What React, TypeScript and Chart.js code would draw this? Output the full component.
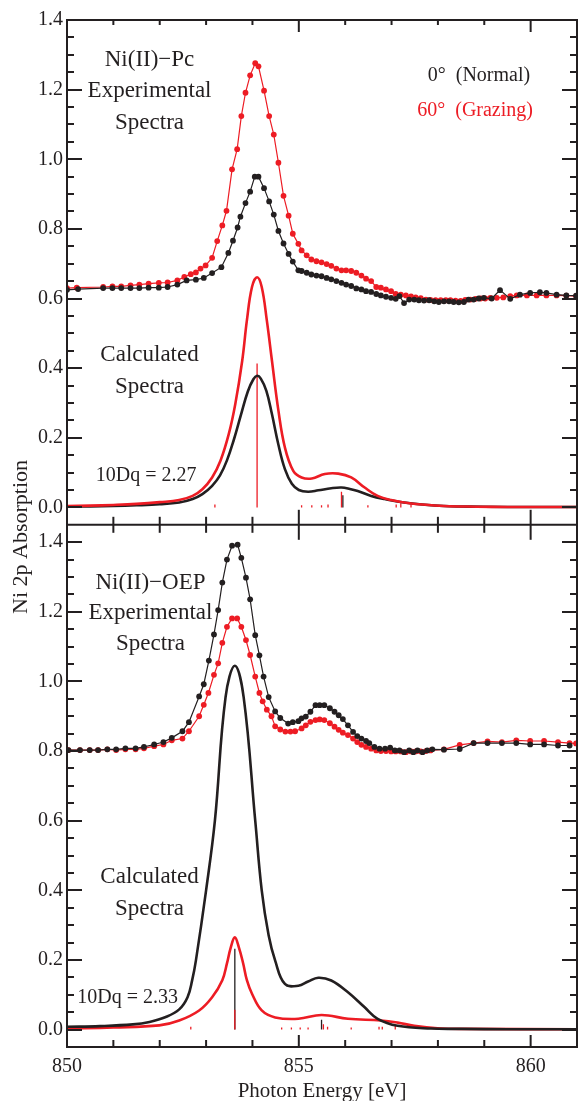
import React, { useEffect, useRef } from 'react';
import { Chart, registerables } from 'chart.js';

Chart.register(...registerables);

// ---------------- data ----------------
// Upper panel: Ni(II)-Pc experimental, 0° (normal incidence)
const pcExpNormalE = [850.0, 850.24, 850.78, 850.98, 851.17, 851.37, 851.56, 851.76, 851.98, 852.17, 852.38, 852.58, 852.78, 852.95, 853.13, 853.33, 853.48, 853.58, 853.68, 853.74, 853.85, 853.95, 854.05, 854.13, 854.25, 854.36, 854.46, 854.56, 854.67, 854.78, 854.87, 854.99, 855.06, 855.17, 855.27, 855.38, 855.49, 855.6, 855.7, 855.81, 855.92, 856.02, 856.13, 856.24, 856.35, 856.45, 856.56, 856.67, 856.77, 856.88, 856.99, 857.09, 857.17, 857.27, 857.38, 857.49, 857.59, 857.7, 857.81, 857.92, 858.02, 858.13, 858.24, 858.34, 858.45, 858.56, 858.66, 858.77, 858.88, 858.99, 859.16, 859.34, 859.56, 859.77, 859.99, 860.2, 860.34, 860.56, 860.77, 860.98];
const pcExpNormalV = [0.625, 0.627, 0.63, 0.63, 0.63, 0.63, 0.63, 0.631, 0.631, 0.633, 0.64, 0.652, 0.654, 0.659, 0.673, 0.69, 0.731, 0.766, 0.804, 0.835, 0.874, 0.907, 0.95, 0.95, 0.917, 0.879, 0.841, 0.794, 0.758, 0.728, 0.706, 0.681, 0.679, 0.674, 0.669, 0.666, 0.664, 0.659, 0.655, 0.65, 0.645, 0.64, 0.636, 0.629, 0.626, 0.621, 0.619, 0.613, 0.609, 0.605, 0.602, 0.599, 0.607, 0.587, 0.597, 0.597, 0.595, 0.594, 0.595, 0.592, 0.59, 0.592, 0.592, 0.59, 0.589, 0.59, 0.597, 0.597, 0.6, 0.602, 0.6, 0.624, 0.599, 0.611, 0.616, 0.618, 0.616, 0.611, 0.609, 0.608];

// Upper panel: Ni(II)-Pc experimental, 60° (grazing incidence)
const pcExpGrazingE = [850.0, 850.21, 850.78, 850.98, 851.17, 851.37, 851.56, 851.76, 851.98, 852.17, 852.38, 852.53, 852.67, 852.78, 852.88, 852.99, 853.13, 853.24, 853.35, 853.44, 853.56, 853.67, 853.76, 853.85, 853.95, 854.06, 854.13, 854.25, 854.36, 854.46, 854.56, 854.67, 854.78, 854.87, 854.99, 855.06, 855.17, 855.27, 855.38, 855.49, 855.6, 855.7, 855.81, 855.92, 856.02, 856.13, 856.24, 856.35, 856.45, 856.56, 856.67, 856.77, 856.88, 856.99, 857.09, 857.2, 857.31, 857.42, 857.52, 857.63, 857.74, 857.84, 857.95, 858.06, 858.17, 858.27, 858.38, 858.49, 858.59, 858.7, 858.81, 858.92, 859.02, 859.13, 859.27, 859.41, 859.56, 859.7, 859.92, 860.13, 860.34, 860.56, 860.77, 860.98];
const pcExpGrazingV = [0.63, 0.631, 0.633, 0.635, 0.635, 0.638, 0.64, 0.643, 0.645, 0.646, 0.652, 0.662, 0.67, 0.675, 0.686, 0.695, 0.717, 0.765, 0.81, 0.852, 0.971, 1.029, 1.124, 1.191, 1.241, 1.276, 1.267, 1.197, 1.124, 1.071, 0.99, 0.895, 0.838, 0.786, 0.757, 0.738, 0.724, 0.712, 0.707, 0.704, 0.699, 0.694, 0.686, 0.681, 0.681, 0.679, 0.674, 0.666, 0.657, 0.65, 0.633, 0.631, 0.626, 0.621, 0.613, 0.611, 0.609, 0.606, 0.603, 0.601, 0.597, 0.596, 0.595, 0.595, 0.595, 0.595, 0.594, 0.593, 0.596, 0.597, 0.599, 0.6, 0.6, 0.602, 0.602, 0.603, 0.607, 0.609, 0.609, 0.609, 0.609, 0.609, 0.608, 0.607];

// Upper panel: calculated spectra (10Dq = 2.27)
const pcCalcNormalE = [850.0, 850.5, 851.0, 851.5, 852.0, 852.42, 852.71, 852.92, 853.13, 853.3, 853.45, 853.6, 853.75, 853.9, 854.02, 854.1, 854.18, 854.3, 854.42, 854.56, 854.7, 854.85, 855.0, 855.2, 855.42, 855.7, 855.92, 856.1, 856.27, 856.56, 856.85, 857.27, 858.13, 859.0, 860.0, 861.0];
const pcCalcNormalV = [0.002, 0.003, 0.004, 0.006, 0.009, 0.014, 0.024, 0.038, 0.062, 0.092, 0.135, 0.195, 0.265, 0.333, 0.368, 0.378, 0.37, 0.335, 0.268, 0.18, 0.11, 0.068, 0.05, 0.045, 0.049, 0.055, 0.057, 0.053, 0.047, 0.033, 0.024, 0.014, 0.004, 0.002, 0.001, 0.001];
const pcCalcGrazingE = [850.0, 850.5, 851.0, 851.5, 852.0, 852.42, 852.71, 852.92, 853.13, 853.31, 853.49, 853.63, 853.78, 853.88, 853.99, 854.1, 854.2, 854.31, 854.42, 854.56, 854.7, 854.88, 855.06, 855.28, 855.56, 855.85, 856.13, 856.42, 856.7, 856.99, 857.42, 858.13, 858.84, 859.5, 860.2, 861.0];
const pcCalcGrazingV = [0.004, 0.005, 0.007, 0.01, 0.015, 0.021, 0.033, 0.052, 0.086, 0.134, 0.211, 0.297, 0.422, 0.537, 0.633, 0.661, 0.633, 0.537, 0.422, 0.278, 0.172, 0.105, 0.086, 0.083, 0.096, 0.097, 0.086, 0.057, 0.033, 0.021, 0.011, 0.004, 0.002, 0.001, 0.001, 0.001];
const pcStickNormalE = [855.95];
const pcStickNormalV = [0.035];
const pcStickGrazingE = [853.19, 854.1, 855.06, 855.28, 855.49, 855.63, 855.92, 856.49, 857.1, 857.2, 857.42];
const pcStickGrazingV = [0.008, 0.413, 0.006, 0.006, 0.006, 0.008, 0.045, 0.006, 0.008, 0.012, 0.008];

// Lower panel: Ni(II)-OEP experimental
const oepExpNormalE = [850.03, 850.28, 850.49, 850.67, 850.87, 851.06, 851.26, 851.48, 851.66, 851.88, 852.08, 852.26, 852.49, 852.63, 852.85, 852.95, 853.06, 853.17, 853.26, 853.35, 853.45, 853.56, 853.68, 853.76, 853.86, 853.95, 854.06, 854.15, 854.24, 854.35, 854.49, 854.6, 854.77, 854.87, 854.99, 855.06, 855.15, 855.25, 855.36, 855.45, 855.55, 855.67, 855.77, 855.86, 855.95, 856.06, 856.17, 856.26, 856.35, 856.45, 856.52, 856.63, 856.74, 856.86, 856.97, 857.07, 857.17, 857.27, 857.38, 857.47, 857.56, 857.67, 857.77, 857.88, 858.13, 858.47, 858.77, 859.07, 859.38, 859.69, 859.99, 860.29, 860.59, 860.84];
const oepExpNormalV = [0.803, 0.803, 0.803, 0.803, 0.805, 0.805, 0.808, 0.808, 0.812, 0.819, 0.826, 0.838, 0.857, 0.883, 0.957, 0.992, 1.06, 1.135, 1.205, 1.284, 1.35, 1.39, 1.393, 1.355, 1.298, 1.236, 1.133, 1.075, 1.014, 0.955, 0.914, 0.895, 0.879, 0.883, 0.886, 0.894, 0.899, 0.913, 0.932, 0.932, 0.932, 0.923, 0.913, 0.903, 0.892, 0.874, 0.855, 0.843, 0.836, 0.829, 0.823, 0.812, 0.807, 0.807, 0.81, 0.802, 0.802, 0.797, 0.802, 0.797, 0.802, 0.797, 0.802, 0.805, 0.804, 0.806, 0.823, 0.823, 0.823, 0.823, 0.819, 0.819, 0.816, 0.816];
const oepExpGrazingE = [850.03, 850.28, 850.49, 850.67, 850.87, 851.06, 851.26, 851.48, 851.66, 851.88, 852.08, 852.26, 852.49, 852.63, 852.85, 852.95, 853.05, 853.17, 853.26, 853.35, 853.45, 853.56, 853.67, 853.76, 853.86, 853.95, 854.06, 854.15, 854.22, 854.31, 854.41, 854.49, 854.6, 854.71, 854.82, 854.92, 855.06, 855.15, 855.25, 855.36, 855.45, 855.55, 855.67, 855.77, 855.86, 855.95, 856.06, 856.17, 856.26, 856.35, 856.45, 856.56, 856.67, 856.77, 856.88, 856.99, 857.09, 857.2, 857.31, 857.42, 857.52, 857.63, 857.74, 857.84, 858.13, 858.47, 858.77, 859.07, 859.38, 859.69, 859.99, 860.29, 860.59, 860.84, 860.98];
const oepExpGrazingV = [0.803, 0.803, 0.803, 0.803, 0.805, 0.803, 0.805, 0.805, 0.808, 0.814, 0.819, 0.831, 0.836, 0.857, 0.9, 0.933, 0.967, 1.019, 1.052, 1.111, 1.157, 1.181, 1.181, 1.157, 1.119, 1.076, 1.014, 0.967, 0.943, 0.919, 0.9, 0.871, 0.862, 0.856, 0.856, 0.857, 0.865, 0.874, 0.884, 0.889, 0.891, 0.889, 0.88, 0.87, 0.861, 0.853, 0.846, 0.836, 0.826, 0.818, 0.812, 0.807, 0.802, 0.8, 0.8, 0.799, 0.799, 0.799, 0.797, 0.799, 0.799, 0.799, 0.8, 0.802, 0.805, 0.818, 0.823, 0.828, 0.826, 0.831, 0.829, 0.829, 0.826, 0.823, 0.822];

// Lower panel: calculated spectra (10Dq = 2.33)
const oepCalcNormalE = [850.0, 850.71, 851.42, 851.78, 852.13, 852.42, 852.6, 852.7, 852.78, 853.0, 853.19, 853.42, 853.62, 853.81, 854.06, 854.2, 854.35, 854.49, 854.7, 854.99, 855.2, 855.42, 855.7, 856.06, 856.42, 856.7, 857.13, 857.85, 858.5, 859.5, 861.0];
const oepCalcNormalV = [0.008, 0.01, 0.015, 0.022, 0.036, 0.058, 0.093, 0.142, 0.198, 0.4, 0.6, 0.955, 1.045, 0.955, 0.6, 0.4, 0.27, 0.198, 0.131, 0.126, 0.138, 0.149, 0.141, 0.107, 0.064, 0.031, 0.011, 0.003, 0.002, 0.001, 0.001];
const oepCalcGrazingE = [850.0, 851.0, 851.99, 852.42, 852.85, 853.13, 853.35, 853.45, 853.53, 853.62, 853.71, 853.8, 853.88, 853.99, 854.2, 854.49, 854.99, 855.49, 856.06, 856.77, 857.13, 857.49, 857.99, 858.6, 861.0];
const oepCalcGrazingV = [0.003, 0.006, 0.012, 0.026, 0.055, 0.093, 0.142, 0.19, 0.235, 0.265, 0.235, 0.19, 0.142, 0.103, 0.055, 0.035, 0.031, 0.042, 0.031, 0.026, 0.02, 0.011, 0.004, 0.002, 0.001];
const oepStickNormalE = [853.62, 855.49];
const oepStickNormalV = [0.232, 0.028];
const oepStickGrazingE = [852.67, 853.62, 854.63, 854.84, 855.03, 855.2, 855.53, 855.62, 856.13, 856.73, 856.8, 857.08];
const oepStickGrazingV = [0.008, 0.057, 0.006, 0.006, 0.006, 0.006, 0.015, 0.008, 0.006, 0.008, 0.008, 0.01];

// axis ticks
const xTickValues = [850, 855, 860];
const yTickValues = [0, 0.2, 0.4, 0.6, 0.8, 1.0, 1.2, 1.4];

// ---------------- styling ----------------
const INK = '#231f20';
const RED = '#ed1c24';
const SERIF = '"Liberation Serif", "Times New Roman", Times, serif';

const pts = (E: number[], V: number[]) => E.map((e, i) => ({ x: e, y: V[i] }));
const sticks = (E: number[], V: number[]) => {
  const out: any[] = [];
  E.forEach((e, i) => {
    out.push({ x: e, y: 0 }, { x: e, y: V[i] }, { x: e, y: null });
  });
  return out;
};

const expStyle = (color: string) => ({
  borderColor: color,
  backgroundColor: color,
  borderWidth: 1.2,
  pointRadius: 2.9,
  pointBorderWidth: 0,
  pointBackgroundColor: color,
  tension: 0,
});
const calcStyle = (color: string) => ({
  borderColor: color,
  borderWidth: 2.6,
  pointRadius: 0,
  tension: 0.4,
});
const stickStyle = (color: string) => ({
  borderColor: color,
  borderWidth: 1.3,
  pointRadius: 0,
  spanGaps: false,
  tension: 0,
});

type Label = { text: string; x: number; y: number; axis: string; align: CanvasTextAlign; color: string; size: number };
const LABELS: Label[] = [
  { text: 'Ni(II)\u2212Pc', x: 851.78, y: 1.269, axis: 'yTop', align: 'center', color: INK, size: 23 },
  { text: 'Experimental', x: 851.78, y: 1.178, axis: 'yTop', align: 'center', color: INK, size: 23 },
  { text: 'Spectra', x: 851.78, y: 1.088, axis: 'yTop', align: 'center', color: INK, size: 23 },
  { text: '0\u00b0  (Normal)', x: 859.99, y: 1.226, axis: 'yTop', align: 'right', color: INK, size: 20 },
  { text: '60\u00b0  (Grazing)', x: 860.05, y: 1.125, axis: 'yTop', align: 'right', color: RED, size: 20 },
  { text: 'Calculated', x: 851.78, y: 0.421, axis: 'yTop', align: 'center', color: INK, size: 23 },
  { text: 'Spectra', x: 851.78, y: 0.33, axis: 'yTop', align: 'center', color: INK, size: 23 },
  { text: '10Dq = 2.27', x: 850.62, y: 0.076, axis: 'yTop', align: 'left', color: INK, size: 20 },
  { text: 'Ni(II)\u2212OEP', x: 851.8, y: 1.267, axis: 'yBot', align: 'center', color: INK, size: 23 },
  { text: 'Experimental', x: 851.8, y: 1.178, axis: 'yBot', align: 'center', color: INK, size: 23 },
  { text: 'Spectra', x: 851.8, y: 1.09, axis: 'yBot', align: 'center', color: INK, size: 23 },
  { text: 'Calculated', x: 851.78, y: 0.42, axis: 'yBot', align: 'center', color: INK, size: 23 },
  { text: 'Spectra', x: 851.78, y: 0.33, axis: 'yBot', align: 'center', color: INK, size: 23 },
  { text: '10Dq = 2.33', x: 850.22, y: 0.076, axis: 'yBot', align: 'left', color: INK, size: 20 },
];

const framePlugin = {
  id: 'frameAndText',
  afterDraw(chart: any) {
    const { ctx, chartArea: ca } = chart;
    const xs = chart.scales.x;
    const yT = chart.scales.yTop;
    const yB = chart.scales.yBot;
    ctx.save();
    ctx.strokeStyle = INK;
    ctx.lineWidth = 2;
    ctx.lineCap = 'butt';
    const seg = (x1: number, y1: number, x2: number, y2: number) => {
      ctx.beginPath();
      ctx.moveTo(x1, y1);
      ctx.lineTo(x2, y2);
      ctx.stroke();
    };
    ctx.strokeRect(ca.left, ca.top, ca.right - ca.left, ca.bottom - ca.top);
    const yd = yT.bottom;
    seg(ca.left, yd, ca.right, yd);
    // y ticks (major 0.2, minor 0.05) on both sides, pointing inwards
    [yT, yB].forEach((s: any) => {
      for (let i = 0; i <= 28; i++) {
        const v = i * 0.05;
        const major = i % 4 === 0;
        const len = major ? 15 : 7;
        const py = Math.round(s.getPixelForValue(v));
        seg(ca.left, py, ca.left + len, py);
        seg(ca.right, py, ca.right - len, py);
      }
    });
    // x ticks every 1 eV
    for (let e = 851; e <= 860; e++) {
      const major = e % 5 === 0;
      const px = xs.getPixelForValue(e);
      seg(px, ca.top, px, ca.top + (major ? 12 : 5));
      const d = major ? 15 : 8;
      seg(px, yd - d, px, yd + d);
      seg(px, ca.bottom, px, ca.bottom - (major ? 12 : 7));
    }
    // annotations
    ctx.textBaseline = 'alphabetic';
    LABELS.forEach((l) => {
      ctx.font = `${l.size}px ${SERIF}`;
      ctx.fillStyle = l.color;
      ctx.textAlign = l.align;
      ctx.fillText(l.text, xs.getPixelForValue(l.x), chart.scales[l.axis].getPixelForValue(l.y));
    });
    // axis titles
    ctx.fillStyle = INK;
    ctx.font = `21px ${SERIF}`;
    ctx.textAlign = 'center';
    ctx.fillText('Photon Energy [eV]', (ca.left + ca.right) / 2, 1097);
    ctx.save();
    ctx.translate(27, 537);
    ctx.rotate(-Math.PI / 2);
    ctx.font = `22px ${SERIF}`;
    ctx.fillText('Ni 2p Absorption', 0, 0);
    ctx.restore();
    ctx.restore();
  },
};

export default function App() {
  const ref = useRef<HTMLCanvasElement>(null);
  useEffect(() => {
    if (!ref.current) return;
    const tickFont = { family: SERIF, size: 20 };
    const yScale = (weight: number, max: number) => ({
      type: 'linear' as const,
      position: 'left' as const,
      stack: 'panels',
      stackWeight: weight,
      min: -0.05,
      max,
      grid: { display: false, drawTicks: false },
      border: { display: false },
      afterFit: (s: any) => {
        s.width = 67;
      },
      afterBuildTicks: (s: any) => {
        s.ticks = yTickValues.map((v) => ({ value: v }));
      },
      ticks: {
        font: tickFont,
        color: INK,
        padding: 4,
        callback: (v: any) => Number(v).toFixed(1),
      },
    });
    const chart = new Chart(ref.current, {
      type: 'line',
      data: {
        datasets: [
          { ...expStyle(INK), data: pts(pcExpNormalE, pcExpNormalV), yAxisID: 'yTop', order: 1 },
          { ...expStyle(RED), data: pts(pcExpGrazingE, pcExpGrazingV), yAxisID: 'yTop', order: 2 },
          { ...calcStyle(INK), data: pts(pcCalcNormalE, pcCalcNormalV), yAxisID: 'yTop', order: 4 },
          { ...calcStyle(RED), data: pts(pcCalcGrazingE, pcCalcGrazingV), yAxisID: 'yTop', order: 3 },
          { ...stickStyle(INK), data: sticks(pcStickNormalE, pcStickNormalV), yAxisID: 'yTop', order: 6 },
          { ...stickStyle(RED), data: sticks(pcStickGrazingE, pcStickGrazingV), yAxisID: 'yTop', order: 5 },
          { ...expStyle(INK), data: pts(oepExpNormalE, oepExpNormalV), yAxisID: 'yBot', order: 1 },
          { ...expStyle(RED), data: pts(oepExpGrazingE, oepExpGrazingV), yAxisID: 'yBot', order: 2 },
          { ...calcStyle(INK), data: pts(oepCalcNormalE, oepCalcNormalV), yAxisID: 'yBot', order: 3 },
          { ...calcStyle(RED), data: pts(oepCalcGrazingE, oepCalcGrazingV), yAxisID: 'yBot', order: 4 },
          { ...stickStyle(INK), data: sticks(oepStickNormalE, oepStickNormalV), yAxisID: 'yBot', order: 6 },
          { ...stickStyle(RED), data: sticks(oepStickGrazingE, oepStickGrazingV), yAxisID: 'yBot', order: 5 },
        ] as any,
      },
      options: {
        responsive: false,
        animation: false,
        events: [],
        layout: { padding: { left: 0, right: 1, top: 20, bottom: 0 } },
        plugins: { legend: { display: false }, tooltip: { enabled: false } },
        scales: {
          x: {
            type: 'linear',
            min: 850,
            max: 861,
            grid: { display: false, drawTicks: false },
            border: { display: false },
            afterFit: (s: any) => {
              s.height = 54;
            },
            afterBuildTicks: (s: any) => {
              s.ticks = xTickValues.map((v) => ({ value: v }));
            },
            ticks: { font: tickFont, color: INK, padding: 8, maxRotation: 0, callback: (v: any) => String(v) },
          },
          yBot: yScale(1.5, 1.45),
          yTop: yScale(1.45, 1.4),
        } as any,
      },
      plugins: [framePlugin],
    });
    return () => chart.destroy();
  }, []);
  return (
    <div style={{ position: 'absolute', left: 0, top: 0, width: 581, height: 1101, background: '#fff' }}>
      <canvas ref={ref} width={581} height={1101} style={{ display: 'block', width: 581, height: 1101 }} />
    </div>
  );
}
